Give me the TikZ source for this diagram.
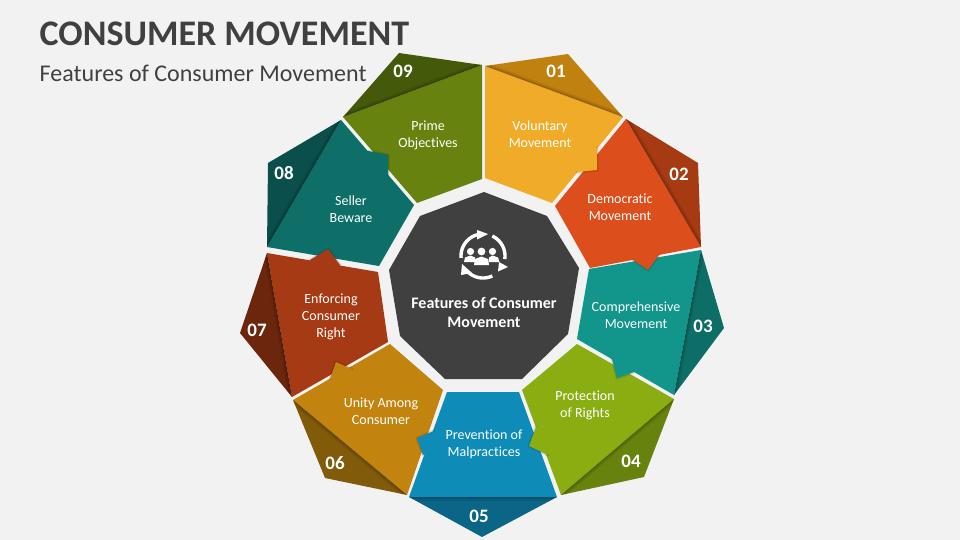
\documentclass[tikz,border=0pt]{standalone}
\usepackage{fontspec}
\setmainfont[Ligatures=CommonOff]{Carlito}
\definecolor{bgc}{HTML}{F2F2F2}
\definecolor{ink}{HTML}{404040}
\definecolor{aL}{HTML}{F0AB29}\definecolor{aD}{HTML}{C1810F}
\definecolor{bL}{HTML}{DC4E1B}\definecolor{bD}{HTML}{A63A12}
\definecolor{cL}{HTML}{12958B}\definecolor{cD}{HTML}{0D6E67}
\definecolor{dL}{HTML}{8AAE11}\definecolor{dD}{HTML}{67820D}
\definecolor{eL}{HTML}{0E8CB7}\definecolor{eD}{HTML}{0A6586}
\definecolor{fL}{HTML}{C2830F}\definecolor{fD}{HTML}{825B0A}
\definecolor{gL}{HTML}{A63A14}\definecolor{gD}{HTML}{6C260D}
\definecolor{hL}{HTML}{0E6E68}\definecolor{hD}{HTML}{0A4F4B}
\definecolor{iL}{HTML}{67820F}\definecolor{iD}{HTML}{445A0A}
\tikzset{
  label text/.style={text=white,align=center,font=\fontsize{14}{17}\selectfont,inner sep=0pt},
  number text/.style={text=white,font=\fontsize{19}{20}\selectfont\bfseries,inner sep=0pt},
  soft/.style={black,opacity=.08,line cap=round},
  icon line/.style={white,line width=3.4pt},
}
% fold: dark part, with a soft shadow along the fold line
\newcommand{\foldpart}[4]{%
  \fill[#1] #2;
  \begin{scope}\clip #2;
    \draw[soft,line width=7pt] #3 -- #4;
    \draw[soft,line width=4pt] #3 -- #4;
    \draw[soft,line width=2pt] #3 -- #4;
  \end{scope}}
% tab: flap over the neighbour; #2 = outer edges, #3 = a point inside its own body
\newcommand{\tabpart}[3]{%
  \draw[soft,line width=3pt,line join=round] #2;
  \draw[soft,line width=1.5pt,line join=round] #2;
  \fill[#1] #2 -- #3 -- cycle;}
\begin{document}
\begin{tikzpicture}[x=1pt,y=-1pt]
\useasboundingbox (0,0) rectangle (960,540);
\fill[bgc] (0,0) rectangle (960,540);
\node[anchor=west,text=ink,font=\fontsize{36}{40}\selectfont\bfseries,inner sep=0pt] (title) at (39.5,34) {CONSUMER MOVEMENT};
\node[anchor=west,text=ink,font=\fontsize{24}{28}\selectfont,inner sep=0pt] (subtitle) at (39.5,73.5) {Features of Consumer Movement};

% bodies
\fill[aL] (485,66) -- (623,117) -- (552,203) -- (485,178) -- cycle;
\fill[bL] (626,119) -- (701,247) -- (590,268) -- (555,206) -- cycle;
\fill[cL] (701,250) -- (674,395) -- (577,339) -- (589,269) -- cycle;
\fill[dL] (674,399) -- (561,495) -- (522,390) -- (577,344) -- cycle;
\fill[eL] (447,392) -- (519,392) -- (557,497) -- (409,497) -- cycle;
\fill[fL] (293,400) -- (390,344) -- (443,390) -- (407,495) -- cycle;
\fill[gL] (267,253) -- (378,272) -- (388,342) -- (292,397) -- cycle;
\fill[hL] (341,120) -- (414,205) -- (379,266) -- (267,247) -- cycle;
\fill[iL] (343,117) -- (482,65) -- (482,179) -- (417,203) -- cycle;

% folded parts
\foldpart{aD}{(485,66) -- (568,54) -- (623,117) -- cycle}{(485,66)}{(623,117)}
\foldpart{bD}{(626,119) -- (698,163) -- (701,247) -- cycle}{(626,119)}{(701,247)}
\foldpart{cD}{(701,250) -- (724,328) -- (674,395) -- cycle}{(701,250)}{(674,395)}
\foldpart{dD}{(674,399) -- (644,477) -- (561,495) -- cycle}{(674,399)}{(561,495)}
\foldpart{eD}{(409,497) -- (557,497) -- (482,537) -- cycle}{(409,497)}{(557,497)}
\foldpart{fD}{(293,400) -- (407,495) -- (325,478) -- cycle}{(293,400)}{(407,495)}
\foldpart{gD}{(267,253) -- (292,397) -- (240,333) -- cycle}{(267,253)}{(292,397)}
\foldpart{hD}{(341,120) -- (267,247) -- (268,163) -- cycle}{(341,120)}{(267,247)}
\foldpart{iD}{(343,117) -- (399,53) -- (482,65) -- cycle}{(343,117)}{(482,65)}

% tabs
\tabpart{aL}{(597,148) -- (597,170) -- (577,172)}{(585,150)}
\tabpart{bL}{(633,260) -- (648,270) -- (659,255)}{(646,245)}
\tabpart{cL}{(612,359) -- (617,378) -- (634,372)}{(625,350)}
\tabpart{dL}{(536,427) -- (529,446) -- (548,455)}{(556,435)}
\tabpart{eL}{(434,431) -- (417,438) -- (423,455)}{(445,445)}
\tabpart{fL}{(330,379) -- (336,362) -- (352,369)}{(345,385)}
\tabpart{gL}{(310,260) -- (328,249) -- (340,265)}{(325,275)}
\tabpart{hL}{(368,151) -- (388,155) -- (388,175)}{(370,170)}

% centre
\fill[ink] (484,192) -- (547,216) -- (579,268) -- (568,334) -- (522,379) -- (445,379) -- (400,336) -- (389,270) -- (420,216) -- cycle;

% icon
\draw[icon line] plot[domain=175:262,samples=24] ({483+22*cos(\x)},{256+22*sin(\x)});
\draw[icon line] plot[domain=295:368,samples=24] ({483+22*cos(\x)},{256+22*sin(\x)});
\draw[icon line] plot[domain=65:132,samples=24] ({483+22*cos(\x)},{256+22*sin(\x)});
\fill[white] (477,230) -- (477,239.5) -- (488,234) -- cycle;
\fill[white] (499,262) -- (508,267) -- (498,271.5) -- cycle;
\fill[white] (462,264) -- (461,275) -- (472,273) -- cycle;
\fill[white] (470.5,251.5) circle[radius=3.6];
\fill[white] (481.5,251.5) circle[radius=3.9];
\fill[white] (492.5,251.5) circle[radius=3.6];
\fill[white] (464,262) -- (465,257.5) -- (470.5,255.5) -- (475,257.5) -- (475.5,262) -- cycle;
\fill[white] (474,265) -- (475,259) -- (481.5,256.5) -- (488,259) -- (489,265) -- cycle;
\fill[white] (488.5,262) -- (489,257.5) -- (492.5,255.5) -- (498,257.5) -- (499.5,262) -- cycle;

% texts
\node[text=white,align=center,font=\fontsize{16}{19}\selectfont\bfseries,inner sep=0pt] (centre) at (484,312.5) {Features of Consumer\\Movement};
\node[label text] (t1) at (540,134) {Voluntary\\Movement};
\node[label text] (t2) at (620,207) {Democratic\\Movement};
\node[label text] (t3) at (636,315) {Comprehensive\\Movement};
\node[label text] (t4) at (585,405) {Protection\\of Rights};
\node[label text] (t5) at (484,444) {Prevention of\\Malpractices};
\node[label text] (t6) at (381,411) {Unity Among\\Consumer};
\node[label text] (t7) at (331,317) {Enforcing\\Consumer\\Right};
\node[label text] (t8) at (351,209) {Seller\\Beware};
\node[label text] (t9) at (428,135) {Prime\\Objectives};
\node[number text] (n1) at (556,71.5) {01};
\node[number text] (n2) at (679,174.5) {02};
\node[number text] (n3) at (703,326.5) {03};
\node[number text] (n4) at (631,461.5) {04};
\node[number text] (n5) at (479,516.5) {05};
\node[number text] (n6) at (335,463.5) {06};
\node[number text] (n7) at (257,330.5) {07};
\node[number text] (n8) at (284,173.5) {08};
\node[number text] (n9) at (403,71.5) {09};
\end{tikzpicture}
\end{document}
